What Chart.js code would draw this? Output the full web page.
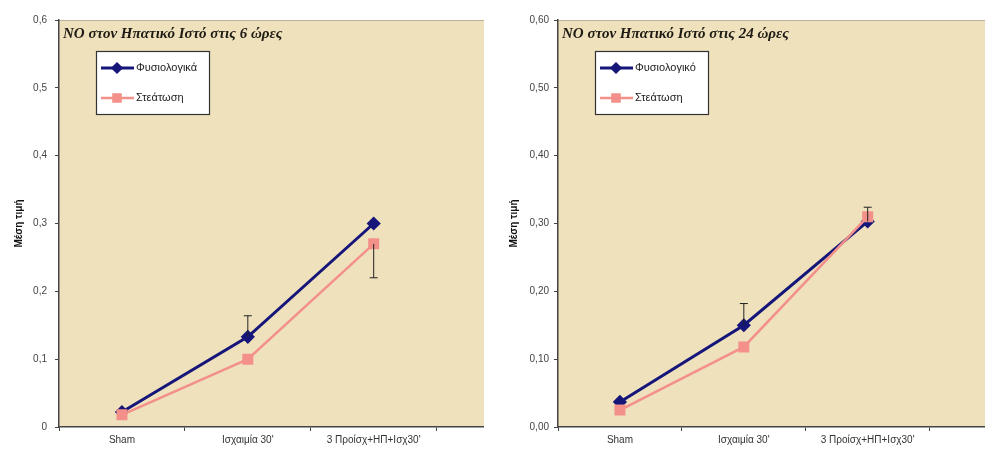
<!DOCTYPE html>
<html>
<head>
<meta charset="utf-8">
<script src="https://cdn.jsdelivr.net/npm/chart.js@4.4.1/dist/chart.umd.min.js"></script>
<style>
    body{ margin:0; background:#fff; width:985px; height:450px; position:relative; overflow:hidden; }
    .box{ position:absolute; top:0; height:450px; overflow:hidden; background:#fff; }
    #box6{ left:0; width:484px; }
    #box24{ left:490px; width:495px; }
</style>
</head>
<body>

<div class="box" id="box6"><canvas id="chart6" width="571" height="450"></canvas></div>
<div class="box" id="box24"><canvas id="chart24" width="572" height="450"></canvas></div>

<script>
// ====================================
// DATA
// ====================================

const categories = ["Sham", "Ισχαιμία 30'", "3 Προίσχ+ΗΠ+Ισχ30'", ""];

const yTicks = [0, 0.1, 0.2, 0.3, 0.4, 0.5, 0.6];

// 6 hours
const title6 = "ΝΟ στον Ηπατικό Ιστό στις 6 ώρες";
const names6 = ["Φυσιολογικά", "Στεάτωση"];
const normal6 = [0.022, 0.133, 0.300];
const steatosis6 = [0.018, 0.100, 0.270];
// signed: + drawn upward, - drawn downward
const normalErr6 = [0, 0.031, 0];
const steatosisErr6 = [0, 0, -0.050];

// 24 hours
const title24 = "ΝΟ στον Ηπατικό Ιστό στις 24 ώρες";
const names24 = ["Φυσιολογικό", "Στεάτωση"];
const normal24 = [0.037, 0.150, 0.303];
const steatosis24 = [0.025, 0.118, 0.310];
const normalErr24 = [0, 0.032, 0.021];
const steatosisErr24 = [0, 0, 0];

const blue = "#16167a";
const pink = "#f4908a";

// ====================================
// PLUGINS
// ====================================

const paperPlugin = {
    id: "paper",
    beforeDraw(chart){
        const c = chart.ctx;
        const a = chart.chartArea;
        c.save();
        c.fillStyle = "#ffffff";
        c.fillRect(0, 0, chart.width, chart.height);
        c.fillStyle = "#eee1bc";
        c.fillRect(a.left, a.top, a.right - a.left, a.bottom - a.top);
        c.strokeStyle = "#b8b09a";
        c.lineWidth = 1;
        c.beginPath();
        c.moveTo(a.left, a.top + 0.5);
        c.lineTo(a.right, a.top + 0.5);
        c.stroke();
        c.restore();
    }
};

const errorBarPlugin = {
    id: "errorBars",
    afterDatasetsDraw(chart){
        const c = chart.ctx;
        const x = chart.scales.x;
        const y = chart.scales.y;
        c.save();
        c.strokeStyle = "#222";
        c.lineWidth = 1;
        chart.data.datasets.forEach(ds=>{
            (ds.errors || []).forEach((e, i)=>{
                if(!e) return;
                const px = x.getPixelForValue(i);
                const y0 = y.getPixelForValue(ds.data[i]);
                const y1 = y.getPixelForValue(ds.data[i] + e);
                c.beginPath();
                c.moveTo(px, y0);
                c.lineTo(px, y1);
                c.moveTo(px - 4, y1);
                c.lineTo(px + 4, y1);
                c.stroke();
            });
        });
        c.restore();
    }
};

const insidePlugin = {
    id: "inside",
    afterDraw(chart){
        const c = chart.ctx;
        const a = chart.chartArea;
        const opts = chart.options.plugins.inside;
        c.save();

        // title
        c.fillStyle = "#1e1a14";
        c.font = "italic bold 15px 'Liberation Serif', 'DejaVu Serif', serif";
        c.textBaseline = "middle";
        c.textAlign = "left";
        c.fillText(opts.title, a.left + 4, a.top + 14);

        // legend box
        const bx = a.left + 37, by = a.top + 31, bw = 113, bh = 63;
        c.fillStyle = "#ffffff";
        c.fillRect(bx, by, bw, bh);
        c.strokeStyle = "#333";
        c.lineWidth = 1.2;
        c.strokeRect(bx + 0.5, by + 0.5, bw, bh);

        chart.data.datasets.forEach((ds, i)=>{
            const ly = by + 17 + i * 30;
            c.strokeStyle = ds.borderColor;
            c.lineWidth = ds.borderWidth;
            c.beginPath();
            c.moveTo(bx + 5, ly);
            c.lineTo(bx + 38, ly);
            c.stroke();
            Chart.helpers.drawPoint(c, {
                pointStyle: ds.pointStyle,
                radius: ds.pointRadius - 1,
                borderWidth: 1
            }, bx + 21, ly);
            c.fillStyle = ds.borderColor;
            c.fill();
            c.fillStyle = "#222";
            c.font = "11px 'Liberation Sans', Arial, sans-serif";
            c.fillText(ds.label, bx + 40, ly);
        });

        c.restore();
    }
};

// ====================================
// CHART BUILDER
// ====================================

function makeChart(id, title, names, nData, sData, nErr, sErr, decimals, yWidth, tickPad, titlePad){

    const ctx = document.getElementById(id).getContext("2d");

    return new Chart(ctx, {
        type: "line",
        data: {
            labels: categories,
            datasets: [{
                label: names[0],
                data: nData,
                errors: nErr,
                borderColor: blue,
                backgroundColor: blue,
                borderWidth: 3,
                pointStyle: "rectRot",
                pointRadius: 5,
                pointBackgroundColor: blue,
                pointBorderColor: blue,
                order: 1
            },{
                label: names[1],
                data: sData,
                errors: sErr,
                borderColor: pink,
                backgroundColor: pink,
                borderWidth: 2.5,
                pointStyle: "rect",
                pointRadius: 6,
                pointBackgroundColor: pink,
                pointBorderColor: pink,
                order: 0
            }]
        },
        options: {
            responsive: false,
            animation: false,
            layout: { padding: { top: 20, left: 0, right: 0, bottom: 0 } },
            plugins: {
                legend: { display: false },
                tooltip: { enabled: false },
                inside: { title: title }
            },
            scales: {
                x: {
                    offset: true,
                    grid: {
                        offset: true,
                        drawOnChartArea: false,
                        tickLength: 4,
                        color: "#444"
                    },
                    border: { color: "#444", width: 1.5 },
                    ticks: {
                        padding: 3,
                        maxRotation: 0,
                        autoSkip: false,
                        color: "#333",
                        font: { size: 10, family: "'Liberation Sans', Arial, sans-serif" }
                    },
                    afterFit(scale){ scale.height = 23; }
                },
                y: {
                    min: 0,
                    max: 0.6,
                    afterBuildTicks(scale){
                        scale.ticks = yTicks.map(v=>({ value: v }));
                    },
                    grid: {
                        drawOnChartArea: false,
                        tickLength: 4,
                        color: "#444"
                    },
                    border: { color: "#444", width: 1.5 },
                    ticks: {
                        padding: tickPad,
                        color: "#444",
                        font: { size: 10, family: "'Liberation Sans', Arial, sans-serif" },
                        callback(v){
                            if(decimals === 1 && v === 0) return "0";
                            return v.toFixed(decimals).replace(".", ",");
                        }
                    },
                    title: {
                        display: true,
                        text: "Μέση τιμή",
                        color: "#111",
                        padding: { top: titlePad, bottom: 0 },
                        font: { size: 10, weight: "bold", family: "'Liberation Sans', Arial, sans-serif" }
                    },
                    afterFit(scale){ scale.width = yWidth; }
                }
            }
        },
        plugins: [paperPlugin, errorBarPlugin, insidePlugin]
    });
}

makeChart("chart6", title6, names6, normal6, steatosis6, normalErr6, steatosisErr6, 1, 59, 8, 13);
makeChart("chart24", title24, names24, normal24, steatosis24, normalErr24, steatosisErr24, 2, 68, 5, 18);
</script>
</body>
</html>
